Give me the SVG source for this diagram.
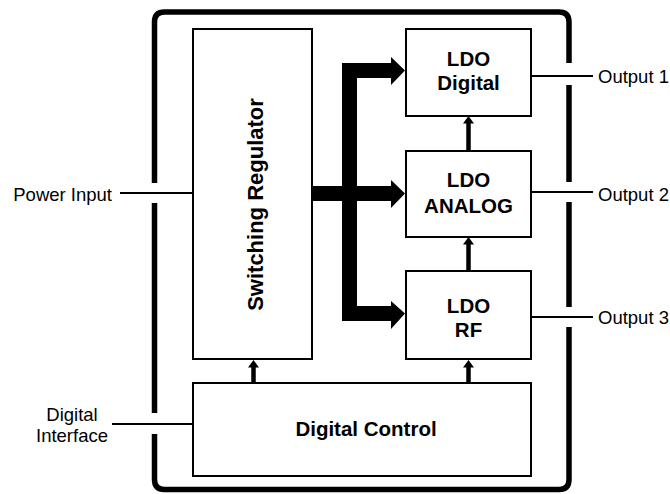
<svg xmlns="http://www.w3.org/2000/svg" width="670" height="494" viewBox="0 0 670 494">
  <style>
    .box { fill: #ffffff; stroke: #000000; stroke-width: 2; }
    .wire { fill: none; stroke: #000000; stroke-width: 2; }
    .frame { fill: none; stroke: #000000; stroke-width: 5.5; stroke-linecap: butt; }
    .small { fill: none; stroke: #000000; stroke-width: 4.5; marker-end: url(#head); }
    .lbl { font-family: "Liberation Sans", Arial, sans-serif; font-size: 18.5px; fill: #000000; }
    .bold { font-family: "Liberation Sans", Arial, sans-serif; font-size: 20.5px; font-weight: bold; fill: #000000; text-anchor: middle; }
  </style>
  <defs>
    <marker id="head" markerUnits="userSpaceOnUse" markerWidth="8" markerHeight="11" viewBox="0 -5.5 8 11" refX="0.5" refY="0" orient="auto">
      <path d="M0,-5.5 L7.5,0 L0,5.5 Z" fill="#000000"/>
    </marker>
  </defs>
  <rect x="0" y="0" width="670" height="494" fill="#ffffff"/>

  <g id="frame">
    <path class="frame" d="M154.5,183 V22 Q154.5,12 164.5,12 H559 Q569,12 569,22 V63"/>
    <path class="frame" d="M569,85 V182"/>
    <path class="frame" d="M569,202 V307"/>
    <path class="frame" d="M569,327 V479.5 Q569,489.5 559,489.5 H164.5 Q154.5,489.5 154.5,479.5 V434"/>
    <path class="frame" d="M154.5,413 V203"/>
  </g>

  <g id="connectors">
    <path d="M342,63 H391 V57 L405,70.5 L391,85 V78 H357 V186 H391 V180 L405,193.5 L391,208 V201 H357 V306 H391 V301 L405,313.5 L391,329 V321 H342 V201 H312 V186 H342 Z" fill="#000000"/>
    <line class="small" x1="253.5" y1="383" x2="253.5" y2="367"/>
    <line class="small" x1="468.5" y1="383" x2="468.5" y2="367"/>
    <line class="small" x1="468.5" y1="271" x2="468.5" y2="244"/>
    <line class="small" x1="468.5" y1="151" x2="468.5" y2="123"/>
    <line class="wire" x1="120" y1="193" x2="193" y2="193"/>
    <line class="wire" x1="112" y1="424" x2="193" y2="424"/>
    <line class="wire" x1="531" y1="76" x2="593" y2="76"/>
    <line class="wire" x1="531" y1="192" x2="593" y2="192"/>
    <line class="wire" x1="531" y1="317" x2="593" y2="317"/>
  </g>

  <g id="switching-regulator">
    <rect class="box" x="193" y="29" width="119" height="330"/>
    <text class="bold" style="font-size:22px" transform="translate(262.5,204.5) rotate(-90)">Switching Regulator</text>
  </g>

  <g id="ldo-digital">
    <rect class="box" x="406" y="29" width="125" height="87"/>
    <text class="bold" x="468.5" y="66">LDO</text>
    <text class="bold" x="468.5" y="90">Digital</text>
  </g>

  <g id="ldo-analog">
    <rect class="box" x="406" y="151" width="125" height="86"/>
    <text class="bold" x="468.5" y="187">LDO</text>
    <text class="bold" x="468.5" y="213">ANALOG</text>
  </g>

  <g id="ldo-rf">
    <rect class="box" x="406" y="271" width="125" height="88"/>
    <text class="bold" x="468.5" y="313">LDO</text>
    <text class="bold" x="468.5" y="337">RF</text>
  </g>

  <g id="digital-control">
    <rect class="box" x="193" y="383" width="338" height="93"/>
    <text class="bold" x="366" y="436">Digital Control</text>
  </g>

  <g id="power-input">
    <text class="lbl" x="112" y="201" text-anchor="end">Power Input</text>
  </g>
  <g id="digital-interface">
    <text class="lbl" x="72" y="421" text-anchor="middle">Digital</text>
    <text class="lbl" x="72" y="442" text-anchor="middle">Interface</text>
  </g>
  <g id="output-1">
    <text class="lbl" x="598" y="83">Output 1</text>
  </g>
  <g id="output-2">
    <text class="lbl" x="598" y="201">Output 2</text>
  </g>
  <g id="output-3">
    <text class="lbl" x="598" y="324">Output 3</text>
  </g>
</svg>
